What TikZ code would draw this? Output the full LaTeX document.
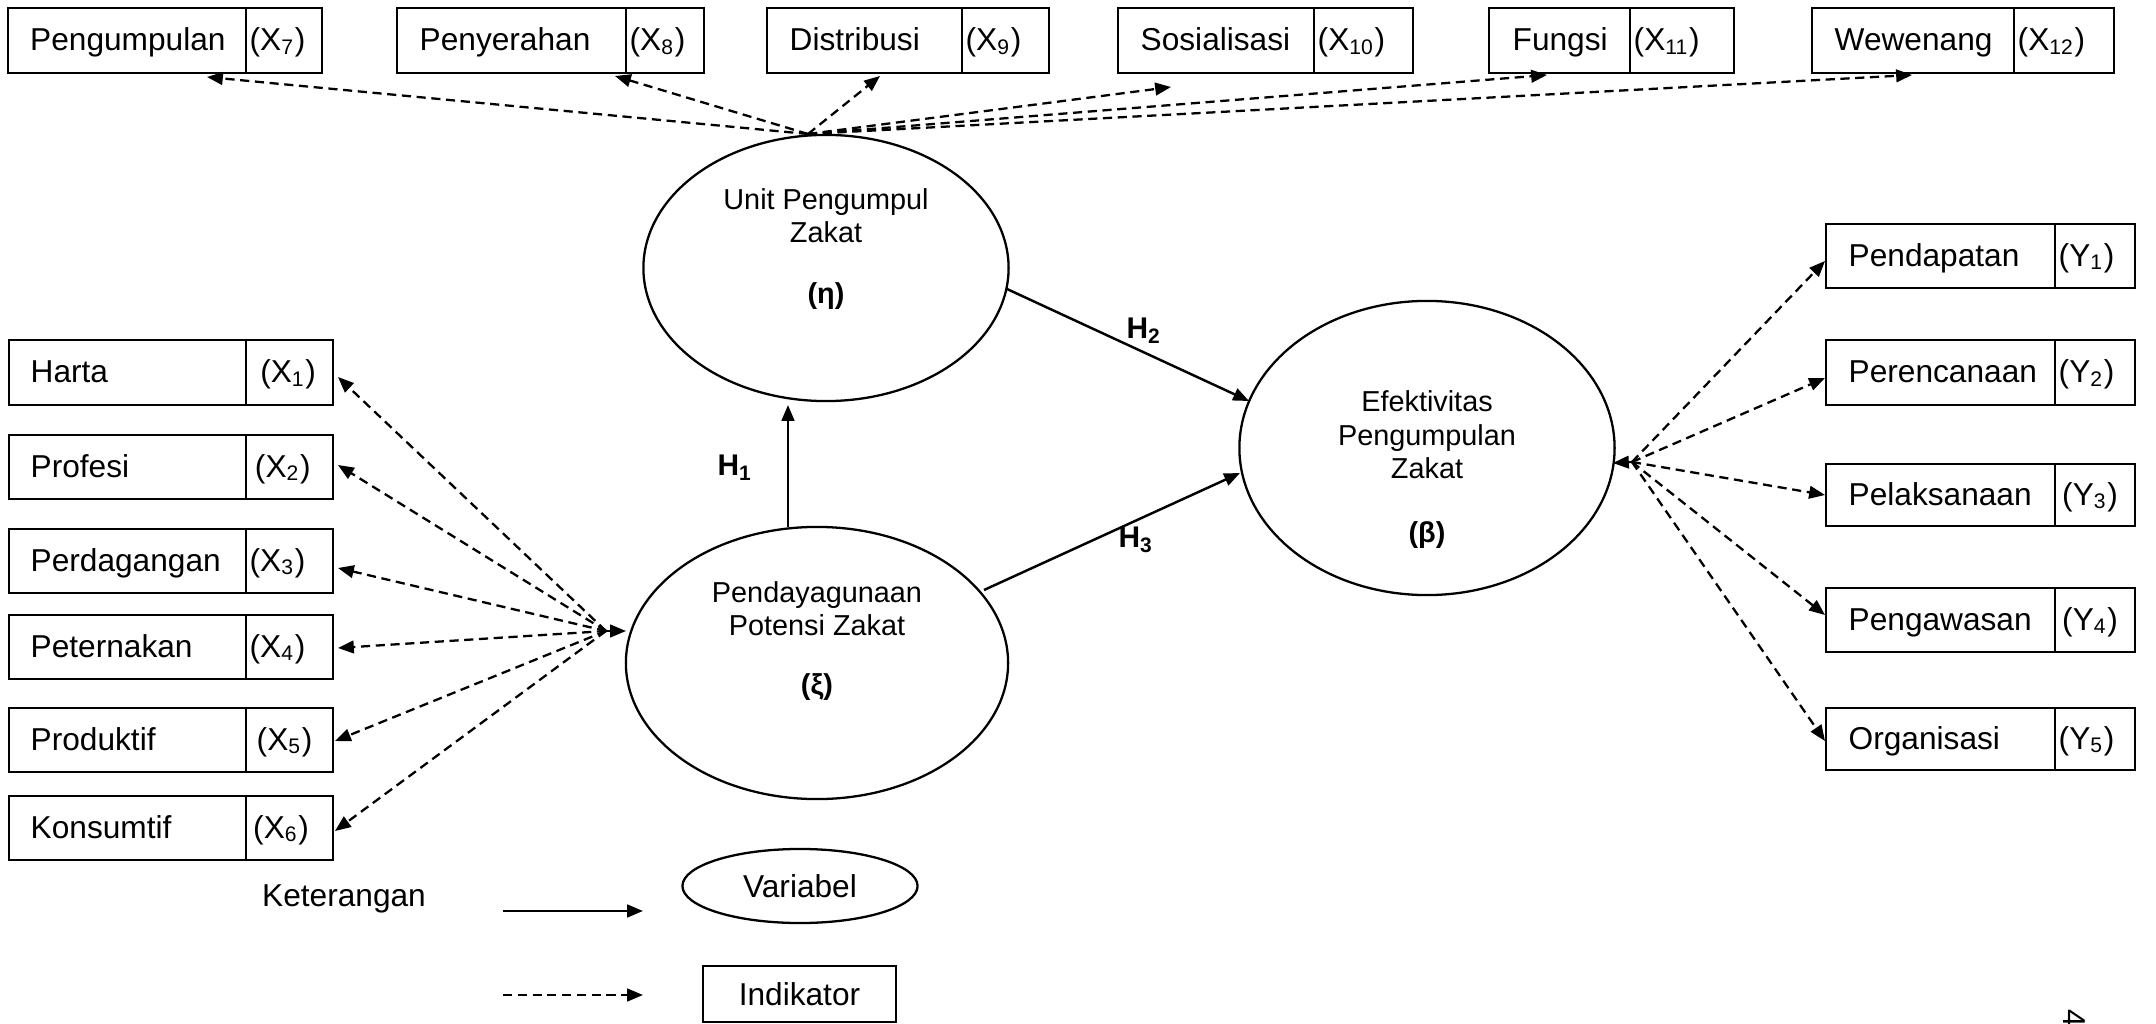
\documentclass[tikz,border=0pt]{standalone}
\usepackage{fontspec}
\setmainfont{Liberation Sans}
\usetikzlibrary{arrows.meta,shapes.geometric}
% name, x1, y1, x2, y2, xdiv, xlabel, label, code
\newcommand\indbox[9]{%
  \pgfmathsetmacro\bw{(#4-#2)*0.01}%
  \pgfmathsetmacro\bh{(#5-#3)*0.01}%
  \node[ibox, minimum width=\bw cm, minimum height=\bh cm] (#1) at ({(#2+#4)/2},{(#3+#5)/2}) {};
  \draw[divline] (#6,#3) -- (#6,#5);
  \node[btext, anchor=base west] (#1l) at (#7,{(#3+#5)/2+10}) {#8};
  \node[btext, anchor=base west] (#1c) at ({#6+3},{(#3+#5)/2+10}) {#9};
}
\tikzset{
  ibox/.style={draw, rectangle, line width=0.8pt, inner sep=0pt},
  divline/.style={line width=0.6pt},
  btext/.style={font=\fontsize{9}{10.8}\selectfont, inner sep=0pt},
  etext/.style={font=\fontsize{8.2}{9.8}\selectfont, inner sep=0pt, anchor=base},
  latent/.style={draw, ellipse, line width=0.65pt, inner sep=0pt},
  path arrow/.style={-{Triangle[length=4.5pt,width=3.6pt]}, line width=0.7pt},
  ind arrow/.style={-{Triangle[length=4.5pt,width=3.6pt]}, line width=0.65pt, dash pattern=on 2.6pt off 1.6pt},
  hlab/.style={font=\bfseries\fontsize{8.5}{10}\selectfont, inner sep=0pt},
}
\begin{document}
\begin{tikzpicture}[x=0.01cm, y=-0.01cm]
\useasboundingbox[fill=white] (0,0) rectangle (2156,1024);

% ---- top indicator boxes
\indbox{b7}{8}{8}{322}{73}{246}{29.5}{Pengumpulan}{(X\textsubscript{7})}
\indbox{b8}{397}{8}{704}{73}{626}{419}{Penyerahan}{(X\textsubscript{8})}
\indbox{b9}{767}{8}{1049}{73}{962}{789}{Distribusi}{(X\textsubscript{9})}
\indbox{b10}{1118}{8}{1413}{73}{1314}{1140}{Sosialisasi}{(X\textsubscript{10})}
\indbox{b11}{1489}{8}{1734}{73}{1630}{1512}{Fungsi}{(X\textsubscript{11})}
\indbox{b12}{1812}{8}{2114}{73}{2014}{1834}{Wewenang}{(X\textsubscript{12})}

% ---- left indicator boxes
\indbox{b1}{9}{340}{333}{405}{246}{30}{Harta}{\hspace{3pt}(X\textsubscript{1})}
\indbox{b2}{9}{435}{333}{499}{246}{30}{Profesi}{\hspace{1.5pt}(X\textsubscript{2})}
\indbox{b3}{9}{529}{333}{593}{246}{30}{Perdagangan}{(X\textsubscript{3})}
\indbox{b4}{9}{615}{333}{679}{246}{30}{Peternakan}{(X\textsubscript{4})}
\indbox{b5}{9}{708}{333}{772}{246}{30}{Produktif}{\hspace{2pt}(X\textsubscript{5})}
\indbox{b6}{9}{796}{333}{860}{246}{30}{Konsumtif}{\hspace{1pt}(X\textsubscript{6})}

% ---- right indicator boxes
\indbox{y1}{1826}{224}{2135}{288}{2055}{1848}{Pendapatan}{(Y\textsubscript{1})}
\indbox{y2}{1826}{340}{2135}{405}{2055}{1848}{Perencanaan}{(Y\textsubscript{2})}
\indbox{y3}{1826}{464}{2135}{526}{2055}{1848}{Pelaksanaan}{\hspace{1pt}(Y\textsubscript{3})}
\indbox{y4}{1826}{588}{2135}{652}{2055}{1848}{Pengawasan}{\hspace{1pt}(Y\textsubscript{4})}
\indbox{y5}{1826}{708}{2135}{770}{2055}{1848}{Organisasi}{(Y\textsubscript{5})}

% ---- latent variables
\node[latent, minimum width=3.65cm, minimum height=2.66cm] (unit) at (826,268) {};
\node[etext] (unit1) at (826,209) {Unit Pengumpul};
\node[etext] (unit2) at (826,242) {Zakat};
\node[etext] (unit3) at (826,303) {\bfseries(η)};

\node[latent, minimum width=3.82cm, minimum height=2.72cm] (pd) at (817,663) {};
\node[etext] (pd1) at (817,602) {Pendayagunaan};
\node[etext] (pd2) at (817,635) {Potensi Zakat};
\node[etext] (pd3) at (817,694) {\bfseries(ξ)};

\node[latent, minimum width=3.75cm, minimum height=2.94cm] (ef) at (1427,448) {};
\node[etext] (ef1) at (1427,411) {Efektivitas};
\node[etext] (ef2) at (1427,445) {Pengumpulan};
\node[etext] (ef3) at (1427,478) {Zakat};
\node[etext] (ef4) at (1427,542) {\bfseries(β)};

% ---- structural paths
\coordinate (h1a) at (788,527);
\coordinate (h1b) at (788,405);
\coordinate (h2a) at (1007,289);
\coordinate (h2b) at (1249,401);
\coordinate (h3a) at (984,590);
\coordinate (h3b) at (1240,473);
\draw[path arrow] (h1a) -- (h1b);
\draw[path arrow] (h2a) -- (h2b);
\draw[path arrow] (h3a) -- (h3b);
\node[hlab] (H1) at (735,468) {H\textsubscript{1}};
\node[hlab] (H2) at (1144,331) {H\textsubscript{2}};
\node[hlab] (H3) at (1136,540) {H\textsubscript{3}};

% ---- top indicator arrows
\coordinate (utop) at (808,134);
\coordinate (t7) at (207,77);
\coordinate (t8) at (615,76);
\coordinate (t9) at (880,76);
\coordinate (t10) at (1171,87);
\coordinate (t11) at (1547,75);
\coordinate (t12) at (1912,75);
\foreach \t in {t7,t8,t9,t10,t11,t12} \draw[ind arrow] (utop) -- (\t);

% ---- left indicator arrows
\coordinate (lc) at (606,631);
\coordinate (ltip) at (626,631);
\coordinate (t1) at (338,377);
\coordinate (t2) at (338,465);
\coordinate (t3) at (338,568);
\coordinate (t4) at (338,648);
\coordinate (t5) at (335,741);
\coordinate (t6) at (335,831);
\foreach \t in {t1,t2,t3,t4,t5,t6} \draw[ind arrow] (lc) -- (\t);
\draw[path arrow, line width=0.6pt] (lc) -- (ltip);

% ---- right indicator arrows
\coordinate (rc) at (1632,462);
\coordinate (rtip) at (1613,463);
\coordinate (s1) at (1825,261);
\coordinate (s2) at (1825,378);
\coordinate (s3) at (1825,495);
\coordinate (s4) at (1825,615);
\coordinate (s5) at (1825,741);
\foreach \t in {s1,s2,s3,s4,s5} \draw[ind arrow] (rc) -- (\t);
\draw[path arrow, line width=0.6pt] (rc) -- (rtip);

% ---- legend
\node[btext] (ket) at (344,899) {Keterangan};
\coordinate (la1) at (503,911);
\coordinate (la2) at (643,911);
\coordinate (lb1) at (503,995);
\coordinate (lb2) at (643,995);
\draw[path arrow] (la1) -- (la2);
\draw[ind arrow] (lb1) -- (lb2);
\node[latent, btext, draw, minimum width=2.35cm, minimum height=0.74cm] (var) at (800,886) {Variabel};
\node[ibox, btext, draw, line width=0.8pt, minimum width=1.93cm, minimum height=0.56cm] (indk) at (799.5,994) {Indikator};

% ---- page number
\node[btext, rotate=-90] (pg) at (2074,1018) {4};
\end{tikzpicture}
\end{document}
